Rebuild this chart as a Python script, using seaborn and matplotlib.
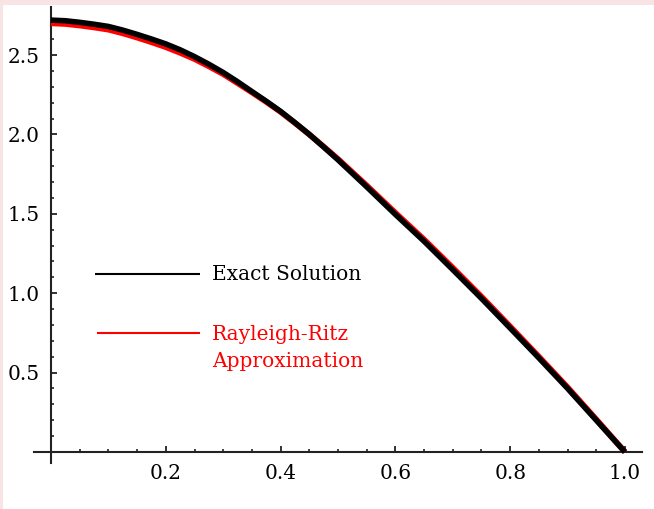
import numpy as np
import pandas as pd
import matplotlib
matplotlib.use("Agg")
import matplotlib.pyplot as plt
from matplotlib.patches import Rectangle
import seaborn as sns

# ---- data ----
x_vals = [0.000, 0.025, 0.050, 0.075, 0.100, 0.125, 0.150, 0.175, 0.200, 0.225,
          0.250, 0.275, 0.300, 0.325, 0.350, 0.375, 0.400, 0.425, 0.450, 0.475,
          0.500, 0.550, 0.600, 0.650, 0.700, 0.750, 0.800, 0.850, 0.900, 0.950, 1.000]
exact_vals = [2.720, 2.716, 2.706, 2.694, 2.680, 2.657, 2.630, 2.601, 2.570, 2.533,
              2.490, 2.442, 2.390, 2.332, 2.270, 2.209, 2.145, 2.074, 2.000, 1.921,
              1.840, 1.670, 1.496, 1.327, 1.148, 0.967, 0.780, 0.592, 0.400, 0.200, 0.000]
rr_vals = [2.700, 2.696, 2.686, 2.674, 2.660, 2.637, 2.610, 2.581, 2.550, 2.514,
           2.475, 2.429, 2.380, 2.323, 2.265, 2.205, 2.142, 2.072, 2.000, 1.923,
           1.845, 1.678, 1.506, 1.338, 1.160, 0.978, 0.790, 0.600, 0.407, 0.205, 0.000]
series_names = ["Exact Solution", "Rayleigh-Ritz\nApproximation"]
x_ticks = [0.2, 0.4, 0.6, 0.8, 1.0]
x_tick_labels = ["0.2", "0.4", "0.6", "0.8", "1.0"]
y_ticks = [0.5, 1.0, 1.5, 2.0, 2.5]
y_tick_labels = ["0.5", "1.0", "1.5", "2.0", "2.5"]

df_exact = pd.DataFrame({"x": x_vals, "y": exact_vals})
df_rr = pd.DataFrame({"x": x_vals, "y": rr_vals})

sns.set_style("white")
plt.rcParams["font.family"] = ["DejaVu Serif", "DejaVu Sans"]

W, H = 654, 509
fig = plt.figure(figsize=(W / 100, H / 100), dpi=100)
fig.patch.set_facecolor("white")

# pink frame strips (top and left)
pink = "#f8e4e4"
fig.patches.append(Rectangle((0, 1 - 5 / H), 1, 5 / H, transform=fig.transFigure,
                             facecolor=pink, edgecolor="none", zorder=0))
fig.patches.append(Rectangle((0, 0), 3 / W, 1, transform=fig.transFigure,
                             facecolor=pink, edgecolor="none", zorder=0))

ax_left_px, ax_right_px = 33.8, 642.2
ax_top_px, ax_bot_px = 7.4, 463.1
ax = fig.add_axes([ax_left_px / W, 1 - ax_bot_px / H,
                   (ax_right_px - ax_left_px) / W, (ax_bot_px - ax_top_px) / H])
ax.set_facecolor("none")

sns.lineplot(data=df_rr, x="x", y="y", ax=ax, color="#ff0000", linewidth=4.2,
             solid_capstyle="butt", sort=False)
sns.lineplot(data=df_exact, x="x", y="y", ax=ax, color="black", linewidth=4.0,
             solid_capstyle="butt", sort=False)

ax.set_xlim(-0.03, 1.03)
ax.set_ylim(-0.07, 2.80)
ax.set_xlabel("")
ax.set_ylabel("")

for s in ["top", "right"]:
    ax.spines[s].set_visible(False)
ax.spines["left"].set_position(("data", 0))
ax.spines["bottom"].set_position(("data", 0))
for s in ["left", "bottom"]:
    ax.spines[s].set_linewidth(1.5)
    ax.spines[s].set_color("#222222")
    ax.spines[s].set_zorder(1)

ax.set_xticks(x_ticks)
ax.set_xticklabels(x_tick_labels)
ax.set_yticks(y_ticks)
ax.set_yticklabels(y_tick_labels)
ax.set_xticks(np.arange(0.05, 1.0001, 0.05), minor=True)
ax.set_yticks(np.arange(0.1, 2.7501, 0.1), minor=True)
ax.tick_params(axis="both", which="both", bottom=True, left=True, top=False, right=False)
ax.tick_params(axis="both", which="major", direction="in", length=4.5, width=1.3,
               color="#222222", labelsize=14.5, labelcolor="black")
ax.tick_params(axis="both", which="minor", direction="in", length=2.5, width=1.2,
               color="#222222")
ax.tick_params(axis="x", which="major", pad=9)
ax.tick_params(axis="y", which="major", pad=8)

# legend drawn manually
def fx(px):
    return (px - ax_left_px) / (ax_right_px - ax_left_px)

def fy(py):
    return (ax_bot_px - py) / (ax_bot_px - ax_top_px)

ax.plot([fx(95), fx(200)], [fy(274), fy(274)], transform=ax.transAxes,
        color="black", linewidth=1.5, solid_capstyle="butt")
ax.plot([fx(97), fx(200)], [fy(333), fy(333)], transform=ax.transAxes,
        color="#ff0000", linewidth=1.5, solid_capstyle="butt")
ax.text(fx(212), fy(274), series_names[0], transform=ax.transAxes,
        ha="left", va="center", fontsize=14.5, color="black")
ax.text(fx(212), fy(348), series_names[1], transform=ax.transAxes,
        ha="left", va="center", fontsize=14.5, color="#ff0000", linespacing=1.55)

fig.savefig("out.png", dpi=100, facecolor=fig.get_facecolor())
